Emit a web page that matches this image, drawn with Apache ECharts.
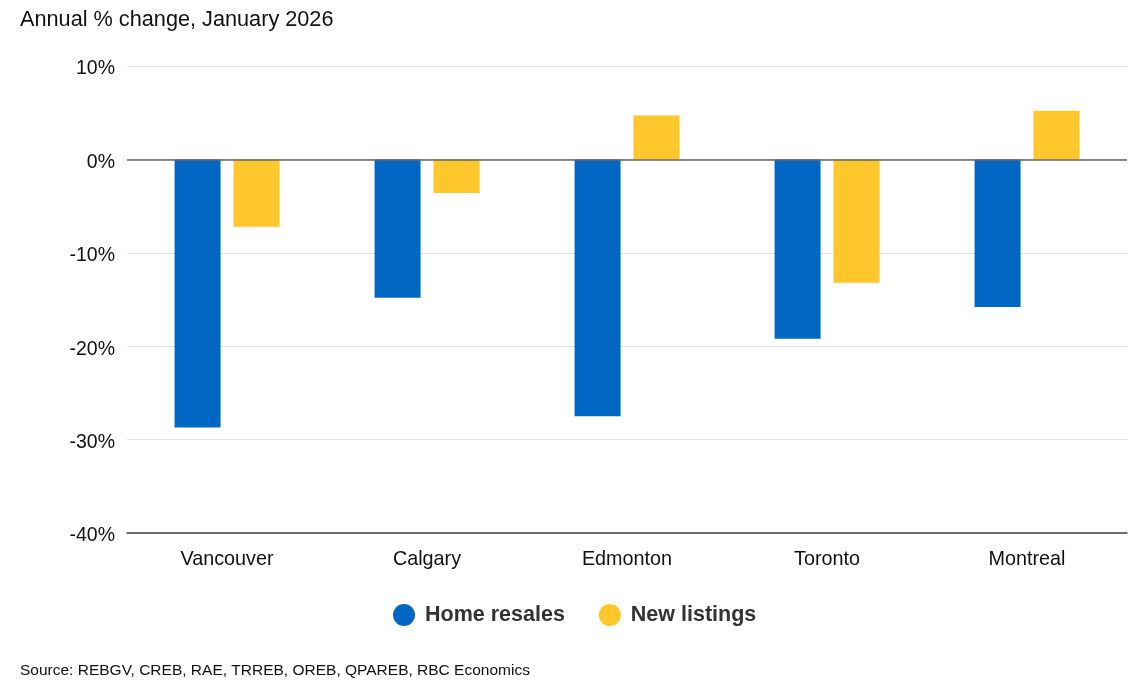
<!DOCTYPE html>
<html><head><meta charset="utf-8">
<script src="https://cdn.jsdelivr.net/npm/echarts@6/dist/echarts.min.js"></script>
<style>html,body{margin:0;padding:0;background:#fff}#c{width:1140px;height:695px}</style>
</head><body><div id="c"></div>
<script>
const categories = ['Vancouver','Calgary','Edmonton','Toronto','Montreal'];
const homeResales = [-28.7, -14.8, -27.5, -19.2, -15.8];
const newListings = [-7.2, -3.6, 4.7, -13.2, 5.2];
const seriesNames = ['Home resales','New listings'];
const yTicks = {min:-40, max:10, interval:10};

const font = 'Liberation Sans, Arial, Helvetica, sans-serif';
const chart = echarts.init(document.getElementById('c'));
chart.setOption({
  animation:false,
  textStyle:{fontFamily:font},
  title:[
    {text:'Annual % change, January 2026', left:15, top:4, textStyle:{fontFamily:font,fontSize:21.7,fontWeight:'normal',color:'#111'}},
    {text:'Source: REBGV, CREB, RAE, TRREB, OREB, QPAREB, RBC Economics', left:15, top:658, textStyle:{fontFamily:font,fontSize:15.5,fontWeight:'normal',color:'#111'}}
  ],
  legend:{data:seriesNames, top:599, left:388, icon:'circle', itemWidth:22, itemHeight:22, itemGap:34,
    textStyle:{fontFamily:font,fontSize:21.5,fontWeight:'bold',color:'#333',padding:[0,0,0,5]}},
  grid:{left:127, right:13, top:66, bottom:162, containLabel:false},
  xAxis:{type:'category', data:categories,
    axisLine:{onZero:false, lineStyle:{color:'#444',width:1.5}},
    axisTick:{show:false},
    axisLabel:{fontFamily:font,fontSize:19.8,color:'#111',margin:17}},
  yAxis:{type:'value', min:yTicks.min, max:yTicks.max, interval:yTicks.interval,
    axisLine:{show:false}, axisTick:{show:false},
    axisLabel:{margin:12, formatter:v=>'{a|'+v+'%}',
      rich:{a:{fontFamily:font,fontSize:19.5,color:'#111',padding:[6,0,0,0]}}},
    splitLine:{lineStyle:{color:'#e2e2e2',width:1}}},
  series:[
    {name:seriesNames[0], type:'bar', data:homeResales, barWidth:46, barGap:'28%', itemStyle:{color:'#0068C4'},
     markLine:{silent:true, symbol:'none', label:{show:false}, lineStyle:{color:'#666',type:'solid',width:1.5}, data:[{yAxis:0}]}},
    {name:seriesNames[1], type:'bar', data:newListings, barWidth:46, itemStyle:{color:'#FFC72C'}}
  ]
});
</script></body></html>
